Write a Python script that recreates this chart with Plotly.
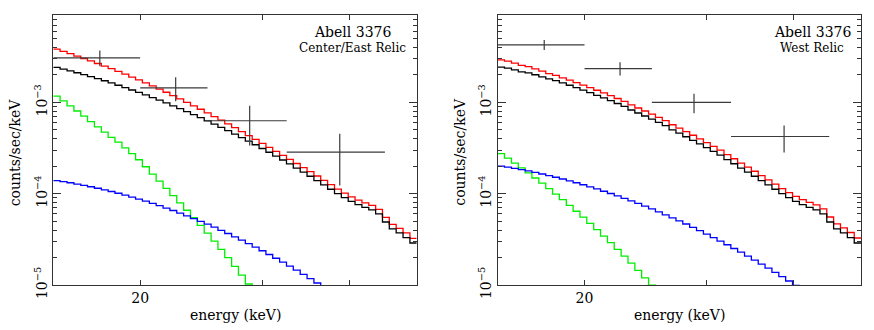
import math
import plotly.graph_objects as go

# Energy bin edges (keV) shared by every model curve
edges = [15.00, 15.34, 15.70, 16.06, 16.43, 16.80, 17.19, 17.59, 17.99, 18.40,
         18.83, 19.26, 19.70, 20.15, 20.62, 21.09, 21.58, 22.07, 22.58, 23.10,
         23.63, 24.17, 24.73, 25.30, 25.88, 26.47, 27.08, 27.70, 28.34, 28.99,
         29.66, 30.34, 31.03, 31.75, 32.48, 33.22, 33.99, 34.77, 35.57, 36.38,
         37.22, 38.08, 38.95, 39.85, 40.76, 41.70, 42.66, 43.64, 44.64, 45.66,
         46.71, 47.79, 48.89, 50.00]

# ---- Center/East Relic: model components, log10(counts/sec/keV) per bin ----
east_total_log = [-2.416, -2.440, -2.465, -2.492, -2.519, -2.546, -2.574, -2.602, -2.631, -2.661,
                  -2.691, -2.723, -2.754, -2.786, -2.820, -2.854, -2.889, -2.925, -2.961, -2.999,
                  -3.037, -3.075, -3.115, -3.155, -3.195, -3.236, -3.277, -3.320, -3.363, -3.405,
                  -3.449, -3.492, -3.536, -3.581, -3.624, -3.669, -3.714, -3.759, -3.806, -3.853,
                  -3.901, -3.950, -3.993, -4.035, -4.070, -4.100, -4.128, -4.172, -4.260, -4.335,
                  -4.380, -4.430, -4.490]
east_cluster_log = [-2.616, -2.635, -2.654, -2.675, -2.696, -2.717, -2.740, -2.763, -2.787, -2.812,
                    -2.837, -2.864, -2.891, -2.918, -2.947, -2.976, -3.006, -3.037, -3.068, -3.101,
                    -3.134, -3.167, -3.202, -3.237, -3.273, -3.310, -3.347, -3.386, -3.425, -3.464,
                    -3.505, -3.546, -3.588, -3.631, -3.674, -3.719, -3.764, -3.809, -3.856, -3.903,
                    -3.951, -4.000, -4.043, -4.085, -4.120, -4.150, -4.178, -4.222, -4.310, -4.385,
                    -4.430, -4.480, -4.540]
east_soft_log = [-2.931, -2.984, -3.039, -3.094, -3.151, -3.210, -3.269, -3.325, -3.382, -3.435,
                 -3.497, -3.560, -3.628, -3.705, -3.785, -3.862, -3.942, -4.020, -4.101, -4.181,
                 -4.263, -4.346, -4.432, -4.520, -4.609, -4.701, -4.795, -4.891, -4.989, -5.090,
                 -5.190]
east_powerlaw_log = [-3.856, -3.868, -3.880, -3.894, -3.908, -3.924, -3.940, -3.957, -3.976, -3.995,
                     -4.015, -4.037, -4.059, -4.082, -4.106, -4.131, -4.157, -4.184, -4.212, -4.242,
                     -4.272, -4.303, -4.334, -4.367, -4.401, -4.436, -4.472, -4.509, -4.546, -4.585,
                     -4.625, -4.666, -4.707, -4.750, -4.793, -4.838, -4.884, -4.930, -4.978, -5.026,
                     -5.075, -5.125]

# ---- West Relic ----
west_total_log = [-2.534, -2.548, -2.570, -2.594, -2.608, -2.632, -2.658, -2.684, -2.705, -2.732,
                  -2.757, -2.784, -2.811, -2.838, -2.867, -2.896, -2.926, -2.957, -2.988, -3.028,
                  -3.061, -3.094, -3.129, -3.164, -3.200, -3.245, -3.282, -3.321, -3.360, -3.399,
                  -3.440, -3.481, -3.523, -3.571, -3.617, -3.664, -3.709, -3.754, -3.801, -3.848,
                  -3.896, -3.945, -3.988, -4.030, -4.065, -4.095, -4.123, -4.167, -4.255, -4.330,
                  -4.375, -4.425, -4.485]
west_cluster_log = [-2.614, -2.625, -2.644, -2.665, -2.676, -2.697, -2.720, -2.743, -2.762, -2.787,
                    -2.812, -2.839, -2.866, -2.893, -2.922, -2.951, -2.981, -3.012, -3.043, -3.083,
                    -3.116, -3.149, -3.184, -3.219, -3.255, -3.300, -3.337, -3.376, -3.415, -3.454,
                    -3.495, -3.536, -3.578, -3.626, -3.672, -3.719, -3.764, -3.809, -3.856, -3.903,
                    -3.951, -4.000, -4.043, -4.085, -4.120, -4.150, -4.178, -4.222, -4.310, -4.385,
                    -4.430, -4.480, -4.540]
west_soft_log = [-3.560, -3.611, -3.664, -3.717, -3.772, -3.828, -3.885, -3.944, -4.004, -4.065,
                 -4.128, -4.192, -4.257, -4.325, -4.393, -4.464, -4.536, -4.609, -4.684, -4.761,
                 -4.840, -4.921, -5.003, -5.090]
west_powerlaw_log = [-3.697, -3.709, -3.722, -3.737, -3.751, -3.767, -3.784, -3.801, -3.820, -3.839,
                     -3.859, -3.880, -3.902, -3.925, -3.948, -3.973, -3.998, -4.024, -4.051, -4.079,
                     -4.107, -4.137, -4.167, -4.199, -4.231, -4.264, -4.298, -4.332, -4.368, -4.404,
                     -4.442, -4.480, -4.519, -4.559, -4.600, -4.641, -4.684, -4.727, -4.771, -4.816,
                     -4.862, -4.909, -4.956, -5.005, -5.054]

# ---- Binned data points (keV, counts/sec/keV) ----
data_energy = [17.5, 22.5, 28.75, 38.75]
data_halfwidth = [2.5, 2.5, 3.75, 6.25]
east_rate = [3.08e-3, 1.445e-3, 6.3e-4, 2.85e-4]
east_hi = [3.70e-3, 1.89e-3, 9.2e-4, 4.55e-4]
east_lo = [2.49e-3, 1.03e-3, 3.37e-4, 1.23e-4]
west_rate = [4.27e-3, 2.35e-3, 1.0e-3, 4.23e-4]
west_hi = [4.83e-3, 2.76e-3, 1.245e-3, 5.6e-4]
west_lo = [3.76e-3, 1.97e-3, 7.6e-4, 2.82e-4]

panel_titles = [("Abell 3376", "Center/East Relic"), ("Abell 3376", "West Relic")]
x_ticks = [20, 30, 40]
x_ticktext = ["20", "", ""]
y_ticks = [1e-5, 1e-4, 1e-3]
y_ticktext = ["10<sup>\u22125</sup>", "10<sup>\u22124</sup>", "10<sup>\u22123</sup>"]
y_minor = [m * d for d in (1e-5, 1e-4, 1e-3) for m in range(2, 10)]

FONT = "DejaVu Serif"
W, H = 874, 330
E_MIN, E_MAX = 15, 50
Y_LOG_RANGE = [-5, -2.0426]


def step_trace(log_vals, color, xa, ya):
    n = len(log_vals)
    xs = edges[: n + 1]
    ys = [10 ** v for v in log_vals] + [10 ** log_vals[-1]]
    return go.Scatter(x=xs, y=ys, mode="lines", line=dict(color=color, width=1.3, shape="hv"),
                      xaxis=xa, yaxis=ya, hoverinfo="skip", showlegend=False)


def data_trace(rate, hi, lo, xa, ya):
    return go.Scatter(
        x=data_energy, y=rate, mode="markers", marker=dict(size=0.1, color="#333"),
        error_x=dict(type="data", array=data_halfwidth, color="#3a3a3a", thickness=1.2, width=0),
        error_y=dict(type="data", symmetric=False,
                     array=[h - r for h, r in zip(hi, rate)],
                     arrayminus=[r - l for r, l in zip(rate, lo)],
                     color="#3a3a3a", thickness=1.2, width=0),
        xaxis=xa, yaxis=ya, hoverinfo="skip", showlegend=False)


fig = go.Figure()
panels = [
    ("x", "y", east_total_log, east_cluster_log, east_soft_log, east_powerlaw_log, east_rate, east_hi, east_lo),
    ("x2", "y2", west_total_log, west_cluster_log, west_soft_log, west_powerlaw_log, west_rate, west_hi, west_lo),
]
for xa, ya, tot, clu, soft, pl, rate, hi, lo in panels:
    fig.add_trace(step_trace(soft, "#00ee00", xa, ya))
    fig.add_trace(step_trace(pl, "#0000ff", xa, ya))
    fig.add_trace(step_trace(tot, "#ff0000", xa, ya))
    fig.add_trace(step_trace(clu, "#000000", xa, ya))
    fig.add_trace(data_trace(rate, hi, lo, xa, ya))

# panel frames in pixels (left, right) and vertical extent
frames = [(53.3, 416.7), (497.7, 861.0)]
top_px, bottom_px = 15, 285

axis_common = dict(showgrid=False, zeroline=False, showline=True, linecolor="#333", linewidth=1,
                   mirror="ticks", ticks="inside", tickcolor="#333", tickwidth=1, automargin=False)
layout = dict(width=W, height=H, margin=dict(l=0, r=0, t=0, b=0, autoexpand=False),
              paper_bgcolor="white", plot_bgcolor="white",
              font=dict(family=FONT, size=13, color="black"), showlegend=False)

annotations = []
for k, (x0, x1) in enumerate(frames):
    sx = "" if k == 0 else "2"
    layout["xaxis" + sx] = dict(
        type="log", range=[math.log10(E_MIN), math.log10(E_MAX)],
        domain=[x0 / W, x1 / W], anchor="y" + sx,
        tickvals=x_ticks, ticktext=x_ticktext, ticklen=5,
        tickfont=dict(family=FONT, size=14), **axis_common)
    layout["yaxis" + sx] = dict(
        type="log", range=Y_LOG_RANGE,
        domain=[(H - bottom_px) / H, (H - top_px) / H], anchor="x" + sx,
        tickvals=y_ticks, ticktext=y_ticktext, ticklen=8, tickangle=-90,
        tickfont=dict(family=FONT, size=14),
        minor=dict(tickvals=y_minor, ticklen=4, ticks="inside", tickcolor="#333", showgrid=False),
        **axis_common)
    cx = (x0 + x1) / 2
    annotations.append(dict(text="energy (keV)", x=cx / W, y=(H - 315) / H, xref="paper", yref="paper",
                            showarrow=False, xanchor="center", yanchor="middle",
                            font=dict(family=FONT, size=14)))
    annotations.append(dict(text="counts/sec/keV", x=(x0 - 38) / W, y=(H - 152) / H,
                            xref="paper", yref="paper", textangle=-90, showarrow=False,
                            xanchor="center", yanchor="middle", font=dict(family=FONT, size=14)))
    line1, line2 = panel_titles[k]
    tx = x1 - 64 if k == 0 else x1 - 49
    annotations.append(dict(text=line1, x=tx / W, y=(H - 32) / H, xref="paper", yref="paper",
                            showarrow=False, xanchor="center", yanchor="middle",
                            font=dict(family=FONT, size=14)))
    annotations.append(dict(text=line2, x=tx / W, y=(H - 48) / H, xref="paper", yref="paper",
                            showarrow=False, xanchor="center", yanchor="middle",
                            font=dict(family=FONT, size=12)))

layout["annotations"] = annotations
fig.update_layout(**layout)
fig.write_html("out.html")
